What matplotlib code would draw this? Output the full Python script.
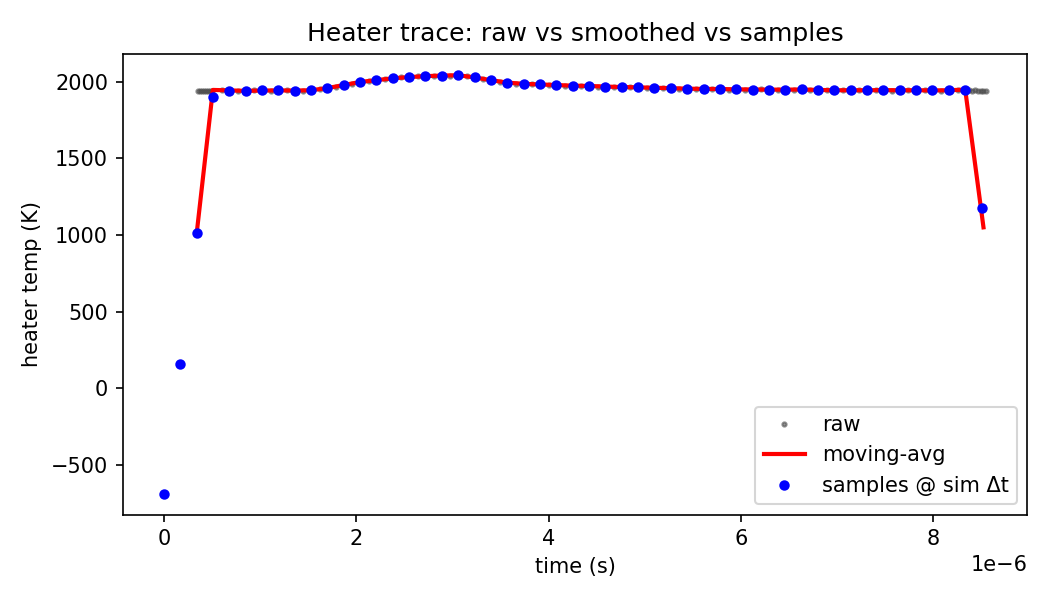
import numpy as np
import matplotlib
matplotlib.use('Agg')
from matplotlib import pyplot as plt

# sampled points (time in us, temp in K)
sample_t = [0.00, 0.17, 0.34, 0.51, 0.68, 0.85, 1.02, 1.19, 1.36, 1.53, 1.70, 1.87,
            2.04, 2.21, 2.38, 2.55, 2.72, 2.89, 3.06, 3.23, 3.40, 3.57, 3.74, 3.91,
            4.08, 4.25, 4.42, 4.59, 4.76, 4.93, 5.10, 5.27, 5.44, 5.61, 5.78, 5.95,
            6.12, 6.29, 6.46, 6.63, 6.80, 6.97, 7.14, 7.31, 7.48, 7.65, 7.82, 7.99,
            8.16, 8.33, 8.50]
sample_T = [-690, 160, 1010, 1900, 1940, 1940, 1945, 1945, 1942, 1945, 1960, 1980,
            2000, 2012, 2025, 2032, 2038, 2042, 2045, 2030, 2010, 1995, 1988, 1985,
            1980, 1975, 1975, 1970, 1967, 1965, 1962, 1960, 1955, 1955, 1955, 1952,
            1950, 1950, 1950, 1952, 1948, 1945, 1945, 1946, 1948, 1945, 1946, 1945,
            1945, 1950, 1175]

# moving average
avg_t = [0.34, 0.51, 0.68, 0.85, 1.02, 1.19, 1.36, 1.53, 1.70, 1.87, 2.04, 2.21,
         2.38, 2.55, 2.72, 2.89, 3.06, 3.23, 3.40, 3.57, 3.74, 3.91, 4.08, 4.25,
         4.42, 4.59, 4.76, 4.93, 5.10, 5.27, 5.44, 5.61, 5.78, 5.95, 6.12, 6.29,
         6.46, 6.63, 6.80, 6.97, 7.14, 7.31, 7.48, 7.65, 7.82, 7.99, 8.16, 8.33, 8.52]
avg_T = [1000, 1948, 1945, 1942, 1944, 1945, 1944, 1946, 1960, 1980, 2000, 2012,
         2024, 2032, 2038, 2042, 2044, 2030, 2012, 1996, 1988, 1984, 1980, 1976,
         1974, 1970, 1967, 1965, 1962, 1960, 1956, 1955, 1954, 1952, 1951, 1950,
         1950, 1951, 1948, 1946, 1946, 1946, 1947, 1946, 1946, 1945, 1946, 1950, 1050]

# raw trace
raw_t = [0.36, 0.38, 0.40, 0.42, 0.44, 0.46, 0.48, 0.50, 0.60, 0.68, 0.77, 0.85,
         0.94, 1.02, 1.11, 1.19, 1.28, 1.36, 1.45, 1.53, 1.62, 1.70, 1.79, 1.87,
         1.96, 2.04, 2.13, 2.21, 2.30, 2.38, 2.47, 2.55, 2.64, 2.72, 2.81, 2.89,
         2.98, 3.06, 3.15, 3.23, 3.32, 3.40, 3.49, 3.57, 3.66, 3.74, 3.83, 3.91,
         4.00, 4.08, 4.17, 4.25, 4.34, 4.42, 4.51, 4.59, 4.68, 4.76, 4.85, 4.93,
         5.02, 5.10, 5.19, 5.27, 5.36, 5.44, 5.53, 5.61, 5.70, 5.78, 5.87, 5.95,
         6.04, 6.12, 6.21, 6.29, 6.38, 6.46, 6.55, 6.63, 6.72, 6.80, 6.89, 6.97,
         7.06, 7.14, 7.23, 7.31, 7.40, 7.48, 7.57, 7.65, 7.74, 7.82, 7.91, 7.99,
         8.08, 8.16, 8.25, 8.33, 8.37, 8.40, 8.43, 8.46, 8.49, 8.52, 8.55]
raw_T = [1940, 1942, 1944, 1942, 1943, 1941, 1944, 1943, 1946, 1940, 1938, 1942,
         1947, 1945, 1940, 1946, 1948, 1940, 1943, 1946, 1952, 1962, 1970, 1982,
         1990, 2000, 2006, 2014, 2020, 2026, 2030, 2034, 2036, 2040, 2038, 2044,
         2042, 2046, 2040, 2028, 2018, 2008, 2000, 1994, 1990, 1986, 1984, 1986,
         1982, 1978, 1976, 1974, 1976, 1972, 1970, 1968, 1968, 1964, 1966, 1962,
         1962, 1960, 1958, 1958, 1955, 1954, 1956, 1952, 1954, 1955, 1950, 1952,
         1950, 1948, 1951, 1950, 1948, 1952, 1950, 1951, 1948, 1946, 1948, 1944,
         1946, 1945, 1947, 1944, 1948, 1946, 1944, 1947, 1945, 1944, 1946, 1945,
         1944, 1946, 1948, 1948, 1946, 1944, 1945, 1943, 1944, 1942, 1940]

fig, ax = plt.subplots(figsize=(7, 4), dpi=150)
ax.plot(np.array(raw_t) * 1e-6, raw_T, '.', color='0.3', alpha=0.6, markersize=4, label='raw')
ax.plot(np.array(avg_t) * 1e-6, avg_T, '-', color='red', linewidth=2, label='moving-avg')
ax.plot(np.array(sample_t) * 1e-6, sample_T, 'o', color='blue', markersize=4,
        label='samples @ sim \u0394t')
ax.set_title('Heater trace: raw vs smoothed vs samples')
ax.set_xlabel('time (s)')
ax.set_ylabel('heater temp (K)')
ax.legend(loc='lower right')
fig.tight_layout()
fig.savefig('out.png')
